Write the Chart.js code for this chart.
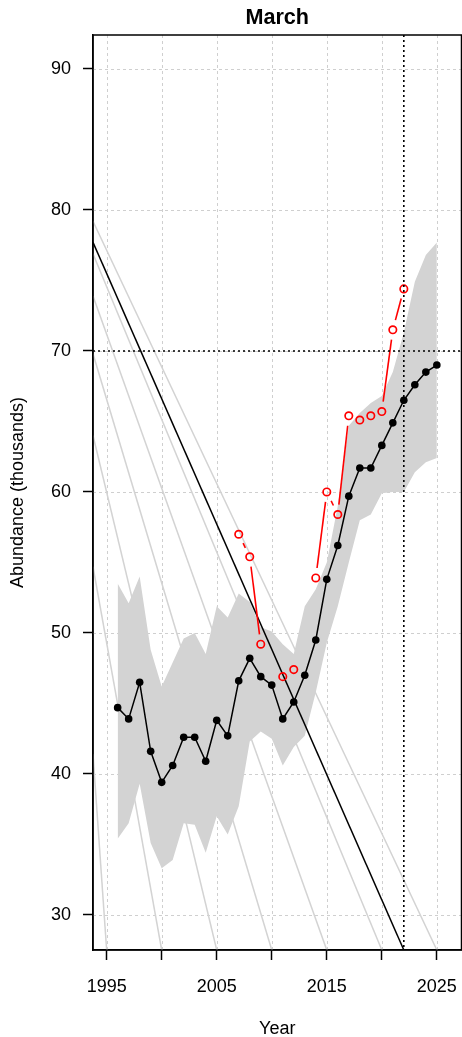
<!DOCTYPE html>
<html><head><meta charset="utf-8">
<script src="https://cdn.jsdelivr.net/npm/chart.js@4.4.1/dist/chart.umd.min.js"></script>
<style>html,body{margin:0;padding:0;background:#fff;}#wrap{width:462px;height:1037px;}</style>
</head><body><div id="wrap"><canvas id="c" width="462" height="1037"></canvas></div>
<script>
// ---- data ----
const years = [1996,1997,1998,1999,2000,2001,2002,2003,2004,2005,2006,2007,2008,2009,2010,2011,2012,2013,2014,2015,2016,2017,2018,2019,2020,2021,2022,2023,2024,2025];
const abundance = [44.7,43.9,46.5,41.6,39.4,40.6,42.6,42.6,40.9,43.8,42.7,46.6,48.2,46.9,46.3,43.9,45.1,47.0,49.5,53.8,56.2,59.7,61.7,61.7,63.3,64.9,66.5,67.6,68.5,69.0];
const ciLower = [35.4,36.5,39.3,35.1,33.3,33.9,36.5,36.4,34.4,37.0,35.7,37.7,42.3,43.0,42.5,40.6,41.9,42.7,45.8,49.3,51.9,55.0,58.0,58.4,59.9,60.0,60.0,61.4,62.1,62.4];
const ciUpper = [53.5,52.1,54.0,48.8,46.2,47.9,49.6,50.0,48.5,51.9,51.1,52.8,52.2,50.4,50.1,49.2,48.5,51.9,53.1,55.0,59.0,64.7,65.6,66.3,66.8,68.5,71.3,74.9,76.8,77.7];
const surveyYears = [2007,2008,2009,2010,2011,2012,2013,2014,2015,2016,2017,2018,2019,2020,2021,2022];
const surveyValues = [57.0,55.4,49.2,null,46.9,47.4,null,53.9,60.0,58.4,65.4,65.1,65.4,65.7,71.5,74.4];
const fanEndYears = [1995,2000,2005,2010,2015,2020,2025];
const fanStartValues = [41.4,54.7,64.0,69.8,73.9,76.9,79.2];
const trendStartValue = 77.7;
const trendEndYear = 2022;
const refYear = 2022;
const refValue = 70;
const xTicks = [1995,2000,2005,2010,2015,2020,2025];
const xLabelYears = [1995,2005,2015,2025];
const yTicks = [30,40,50,60,70,80,90];
const xMin = 1993.76, xMax = 2027.24, yMin = 27.51, yMax = 92.41;

Chart.defaults.font.family = "'Liberation Sans', Arial, Helvetica, sans-serif";
Chart.defaults.color = '#000';

const datasets = [];
fanEndYears.forEach((e, i) => {
  datasets.push({data:[{x:xMin,y:fanStartValues[i]},{x:e,y:yMin}], borderColor:'#d3d3d3', borderWidth:1.5, pointRadius:0, order:10});
});
datasets.push({data: years.map((y,i)=>({x:y,y:ciUpper[i]})), borderWidth:0, borderColor:'rgba(0,0,0,0)', backgroundColor:'#d3d3d3', pointRadius:0, fill:'+1', order:8});
datasets.push({data: years.map((y,i)=>({x:y,y:ciLower[i]})), borderWidth:0, borderColor:'rgba(0,0,0,0)', pointRadius:0, fill:false, order:9});
datasets.push({data:[{x:xMin,y:trendStartValue},{x:trendEndYear,y:yMin}], borderColor:'#000', borderWidth:1.5, pointRadius:0, order:6});
datasets.push({data: years.map((y,i)=>({x:y,y:abundance[i]})), borderColor:'#000', borderWidth:1.5, pointRadius:3.8, pointBackgroundColor:'#000', pointBorderColor:'#000', pointBorderWidth:0, order:4});
datasets.push({data: surveyYears.map((y,i)=>({x:y,y:surveyValues[i]})), showLine:false, pointRadius:3.7, pointBorderColor:'#ff0000', pointBorderWidth:1.7, pointBackgroundColor:'rgba(0,0,0,0)', order:2});
const surveyIndex = datasets.length - 1;

const deco = {
  id:'deco',
  beforeDatasetsDraw(chart){
    const {ctx, chartArea:a, scales:{x,y}} = chart;
    ctx.save();
    ctx.strokeStyle = '#cfcfcf'; ctx.lineWidth = 1; ctx.setLineDash([3,3]);
    xTicks.forEach(v=>{const p=Math.round(x.getPixelForValue(v))+0.5; ctx.beginPath(); ctx.moveTo(p,a.top); ctx.lineTo(p,a.bottom); ctx.stroke();});
    yTicks.forEach(v=>{const p=Math.round(y.getPixelForValue(v))+0.5; ctx.beginPath(); ctx.moveTo(a.left,p); ctx.lineTo(a.right,p); ctx.stroke();});
    ctx.restore();
  },
  afterDatasetsDraw(chart){
    const {ctx, chartArea:a, scales:{x,y}} = chart;
    const pts = chart.getDatasetMeta(surveyIndex).data;
    const gap = 10;
    ctx.save();
    ctx.beginPath(); ctx.rect(a.left,a.top,a.right-a.left,a.bottom-a.top); ctx.clip();
    ctx.strokeStyle = '#ff0000'; ctx.lineWidth = 1.6;
    for (let i=0;i<surveyValues.length-1;i++){
      if (surveyValues[i]==null || surveyValues[i+1]==null) continue;
      const p0 = pts[i], p1 = pts[i+1];
      const dx = p1.x-p0.x, dy = p1.y-p0.y, d = Math.hypot(dx,dy);
      if (d <= 2*gap) continue;
      const ux = dx/d, uy = dy/d;
      ctx.beginPath(); ctx.moveTo(p0.x+ux*gap, p0.y+uy*gap); ctx.lineTo(p1.x-ux*gap, p1.y-uy*gap); ctx.stroke();
    }
    ctx.strokeStyle = '#000'; ctx.lineWidth = 1.6; ctx.setLineDash([2,3]);
    const rx = x.getPixelForValue(refYear), ry = y.getPixelForValue(refValue);
    ctx.beginPath(); ctx.moveTo(rx,a.top); ctx.lineTo(rx,a.bottom); ctx.stroke();
    ctx.beginPath(); ctx.moveTo(a.left,ry); ctx.lineTo(a.right,ry); ctx.stroke();
    ctx.restore();
    ctx.save(); ctx.strokeStyle='#000'; ctx.lineWidth=1.5;
    ctx.strokeRect(a.left, a.top, a.right-a.left, a.bottom-a.top);
    ctx.restore();
  },
  afterDraw(chart){
    const {ctx, chartArea:a} = chart;
    ctx.save();
    ctx.font = "bold 21.6px 'Liberation Sans', Arial, sans-serif";
    ctx.fillStyle = '#000'; ctx.textAlign = 'center'; ctx.textBaseline = 'middle';
    ctx.fillText('March', (a.left+a.right)/2, 18);
    ctx.restore();
  }
};

new Chart(document.getElementById('c'), {
  type:'line',
  data:{datasets},
  options:{
    responsive:false, animation:false, devicePixelRatio:1,
    layout:{autoPadding:false, padding:{top:35,right:0.5,left:0,bottom:0}},
    elements:{line:{tension:0}},
    plugins:{legend:{display:false}, tooltip:{enabled:false}, title:{display:false}},
    scales:{
      x:{type:'linear', min:xMin, max:xMax,
        afterBuildTicks:s=>{s.ticks = xTicks.map(v=>({value:v}));},
        afterFit:s=>{s.height = 87; s.paddingLeft = 0; s.paddingRight = 0;},
        ticks:{autoSkip:false, maxRotation:0, padding:16, font:{size:18}, color:'#000',
          callback:v=> xLabelYears.includes(v) ? String(v) : ''},
        grid:{drawOnChartArea:false, drawTicks:true, tickLength:10, tickColor:'#000', tickWidth:1.5},
        border:{display:true, color:'#000', width:1.5},
        title:{display:true, text:'Year', font:{size:18}, color:'#000', padding:{top:0,bottom:-3}}
      },
      y:{type:'linear', min:yMin, max:yMax,
        afterBuildTicks:s=>{s.ticks = yTicks.map(v=>({value:v}));},
        afterFit:s=>{s.width = 93; s.paddingTop = 0; s.paddingBottom = 0;},
        ticks:{padding:12, font:{size:18}, color:'#000'},
        grid:{drawOnChartArea:false, drawTicks:true, tickLength:10, tickColor:'#000', tickWidth:1.5},
        border:{display:true, color:'#000', width:1.5},
        title:{display:true, text:'Abundance (thousands)', font:{size:18}, color:'#000', padding:{top:7,bottom:0}}
      }
    }
  },
  plugins:[deco]
});
</script></body></html>
